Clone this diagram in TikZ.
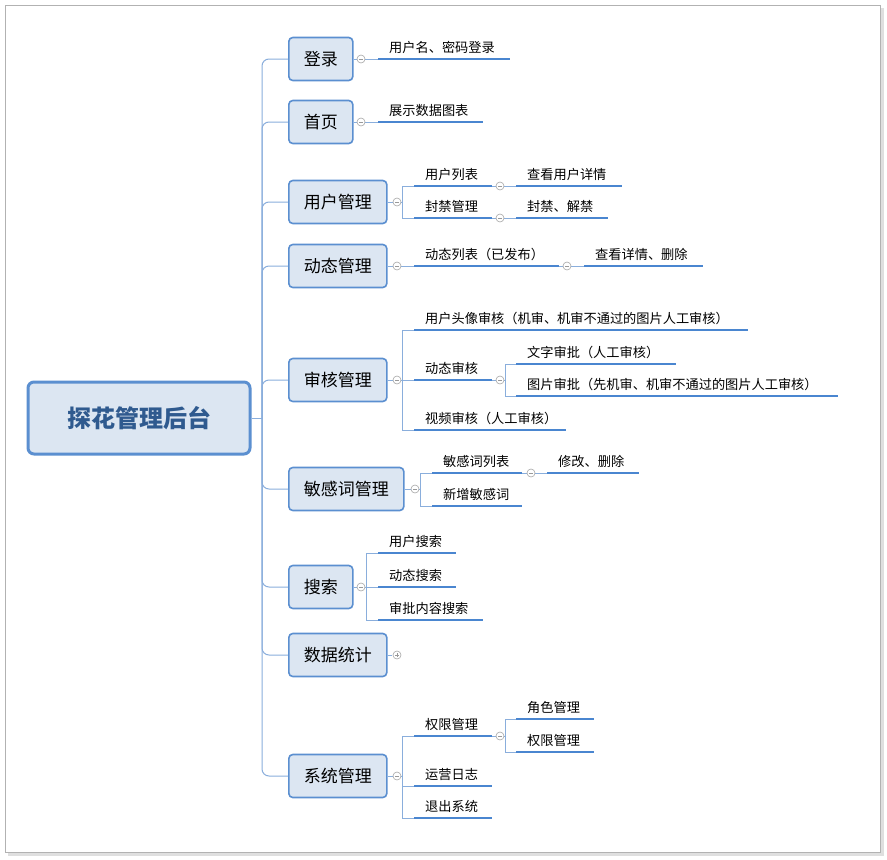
\documentclass[tikz,border=0pt]{standalone}
\usepackage{fontspec}
\setmainfont{Noto Sans CJK SC}
\begin{document}
\definecolor{bfill}{HTML}{DCE6F2}
\definecolor{bdraw}{HTML}{5B8FD0}
\definecolor{uln}{HTML}{4A86D0}
\definecolor{cln}{HTML}{8AAEDC}
\definecolor{rtxt}{HTML}{2F5A8F}
\tikzset{
 l1/.style={draw=bdraw,line width=1.6pt,fill=bfill,rounded corners=4pt,minimum height=43pt,inner xsep=15pt,font=\fontsize{17}{20}\selectfont,anchor=west},
 uline/.style={draw=uln,line width=2.4pt},
 conn/.style={draw=cln,line width=1pt},
 circ/.style={circle,draw=gray!70,fill=white,line width=0.6pt,inner sep=0pt,minimum size=8pt,
   path picture={\draw[gray!80,line width=0.6pt] ([xshift=-2pt]path picture bounding box.center)--([xshift=2pt]path picture bounding box.center);}},
 pcirc/.style={circ,path picture={\draw[gray!80,line width=0.6pt] ([xshift=-2pt]path picture bounding box.center)--([xshift=2pt]path picture bounding box.center) ([yshift=-2pt]path picture bounding box.center)--([yshift=2pt]path picture bounding box.center);}},
 lt/.style={anchor=south west,inner sep=0pt,font=\fontsize{13.2}{15}\selectfont}
}
\newcommand{\lf}[5]{\coordinate (#1-l) at (#2,#4);\coordinate (#1-r) at (#3,#4);
 \draw[uline] (#1-l)--(#1-r);\node[lt] (#1) at (#2+11,#4-5) {#5};}
\begin{tikzpicture}[x=1pt,y=-1pt]
\useasboundingbox (0,0) rectangle (887,860);
\fill[gray!25] (8,8) rectangle (884,856);
\draw[gray!60,fill=white,line width=0.8pt] (5,5) rectangle (880,852);
% root
\node[draw=bdraw,line width=3pt,fill=bfill,rounded corners=6pt,minimum width=222pt,minimum height=72pt,font=\fontsize{24}{28}\selectfont\bfseries,text=rtxt] (root) at (139,418) {探花管理后台};
\coordinate (tr) at (262,418);
\draw[conn] (root.east)--(tr);
% level1
\node[l1] (a) at (288,59) {登录};
\node[l1] (b) at (288,122) {首页};
\node[l1] (c) at (288,202) {用户管理};
\node[l1] (d) at (288,266) {动态管理};
\node[l1] (e) at (288,380) {审核管理};
\node[l1] (f) at (288,489) {敏感词管理};
\node[l1] (g) at (288,587) {搜索};
\node[l1] (h) at (288,655) {数据统计};
\node[l1] (i) at (288,776) {系统管理};
\foreach \n in {a,b,c,d,e,f,g,h,i}{\draw[conn,rounded corners=7pt] (tr) |- (\n.west);}
% leaves
\lf{a1}{378}{510}{59}{用户名、密码登录}
\lf{b1}{378}{483}{122}{展示数据图表}
\lf{c1}{414}{492}{186}{用户列表}
\lf{c2}{414}{492}{218}{封禁管理}
\lf{c11}{516}{622}{186}{查看用户详情}
\lf{c21}{516}{608}{218}{封禁、解禁}
\lf{d1}{414}{559}{266}{动态列表（已发布）}
\lf{d11}{584}{703}{266}{查看详情、删除}
\lf{e1}{414}{748}{330}{用户头像审核（机审、机审不通过的图片人工审核）}
\lf{e2}{414}{492}{380}{动态审核}
\lf{e3}{414}{566}{430}{视频审核（人工审核）}
\lf{e21}{516}{676}{364}{文字审批（人工审核）}
\lf{e22}{516}{838}{396}{图片审批（先机审、机审不通过的图片人工审核）}
\lf{f1}{432}{522}{473}{敏感词列表}
\lf{f2}{432}{522}{506}{新增敏感词}
\lf{f11}{547}{639}{473}{修改、删除}
\lf{g1}{378}{456}{553}{用户搜索}
\lf{g2}{378}{456}{587}{动态搜索}
\lf{g3}{378}{483}{620}{审批内容搜索}
\lf{i1}{414}{492}{736}{权限管理}
\lf{i2}{414}{492}{786}{运营日志}
\lf{i3}{414}{492}{818}{退出系统}
\lf{i11}{516}{594}{719}{角色管理}
\lf{i12}{516}{594}{752}{权限管理}
% junctions
\coordinate (jc) at (402,202);
\coordinate (jc1) at (505,202);
\coordinate (je) at (402,380);
\coordinate (je2) at (505,380);
\coordinate (jf) at (420,489);
\coordinate (jg) at (366,587);
\coordinate (ji) at (402,776);
\coordinate (ji1) at (505,736);
% connectors
\draw[conn] (a.east)--(a1-l);
\draw[conn] (b.east)--(b1-l);
\draw[conn] (c.east)--(jc) (jc)|-(c1-l) (jc)|-(c2-l);
\draw[conn] (c1-r)--(c11-l) (c2-r)--(c21-l);
\draw[conn] (d.east)--(d1-l) (d1-r)--(d11-l);
\draw[conn] (e.east)--(je) (je)|-(e1-l) (je)|-(e2-l) (je)|-(e3-l);
\draw[conn] (e2-r)--(je2) (je2)|-(e21-l) (je2)|-(e22-l);
\draw[conn] (f.east)--(jf) (jf)|-(f1-l) (jf)|-(f2-l) (f1-r)--(f11-l);
\draw[conn] (g.east)--(jg) (jg)|-(g1-l) (jg)|-(g2-l) (jg)|-(g3-l);
\draw[conn] (h.east)--++(4,0);
\draw[conn] (i.east)--(ji) (ji)|-(i1-l) (ji)|-(i2-l) (ji)|-(i3-l);
\draw[conn] (i1-r)--(ji1) (ji1)|-(i11-l) (ji1)|-(i12-l);
% collapse circles
\node[circ] (ca) at (361,59) {};
\node[circ] (cb) at (361,122) {};
\node[circ] (cc) at (397,202) {};
\node[circ] (cc1) at (500,186) {};
\node[circ] (cc2) at (500,218) {};
\node[circ] (cd) at (397,266) {};
\node[circ] (cd1) at (567,266) {};
\node[circ] (ce) at (397,380) {};
\node[circ] (ce2) at (500,380) {};
\node[circ] (cf) at (415,489) {};
\node[circ] (cf1) at (531,473) {};
\node[circ] (cg) at (361,587) {};
\node[pcirc] (ch) at (397,655) {};
\node[circ] (ci) at (397,776) {};
\node[circ] (ci1) at (500,736) {};
\end{tikzpicture}
\end{document}
